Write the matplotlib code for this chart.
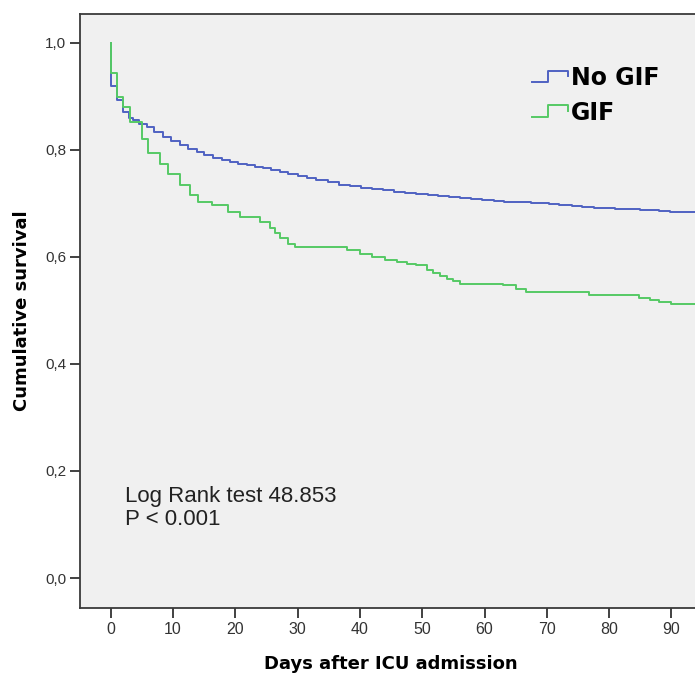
import matplotlib
matplotlib.use("Agg")
import matplotlib.pyplot as plt
from matplotlib.lines import Line2D
from matplotlib.legend_handler import HandlerBase

# ---- data ----
nogif_days = [0, 0, 1.0, 2.0, 3.0, 3.6, 4.5, 5.8, 7.0, 8.4, 9.7, 11.1, 12.4, 13.8, 15.0,
              16.4, 17.8, 19.1, 20.5, 21.8, 23.1, 24.4, 25.8, 27.1, 28.5, 30.0, 31.5,
              33.0, 34.8, 36.6, 38.4, 40.2, 42.0, 43.7, 45.5, 47.2, 49.0, 51.0, 52.6,
              54.3, 56.0, 57.8, 59.6, 61.5, 63.2, 65.0, 67.5, 70.4, 72.0, 74.0, 75.7,
              77.5, 79.3, 81.0, 83.0, 85.0, 86.4, 88.0, 89.7, 95.0]
nogif_surv = [1.0, 0.919, 0.893, 0.871, 0.860, 0.855, 0.849, 0.843, 0.834, 0.824, 0.816,
              0.808, 0.802, 0.796, 0.790, 0.784, 0.780, 0.777, 0.774, 0.771, 0.768, 0.765,
              0.762, 0.758, 0.755, 0.751, 0.747, 0.743, 0.739, 0.735, 0.732, 0.729, 0.726,
              0.724, 0.722, 0.720, 0.718, 0.716, 0.714, 0.712, 0.710, 0.708, 0.707, 0.705,
              0.703, 0.702, 0.700, 0.699, 0.697, 0.695, 0.694, 0.692, 0.691, 0.690, 0.689,
              0.688, 0.687, 0.686, 0.684, 0.684]

gif_days = [0, 0, 1.0, 2.0, 3.1, 5.0, 6.0, 7.9, 9.2, 11.1, 12.7, 14.0, 16.2, 18.8, 20.8,
            23.9, 25.6, 26.3, 27.1, 28.4, 29.5, 37.9, 40.0, 42.0, 44.0, 45.9, 47.5, 49.0,
            50.7, 51.8, 52.8, 53.9, 55.0, 56.0, 62.9, 65.0, 66.7, 76.8, 84.8, 86.5, 88.0,
            90.0, 95.0]
gif_surv = [1.0, 0.944, 0.899, 0.880, 0.852, 0.821, 0.794, 0.774, 0.755, 0.734, 0.715,
            0.702, 0.696, 0.684, 0.674, 0.665, 0.654, 0.645, 0.636, 0.624, 0.618, 0.612,
            0.606, 0.600, 0.595, 0.590, 0.587, 0.584, 0.575, 0.570, 0.565, 0.559, 0.554,
            0.550, 0.547, 0.540, 0.534, 0.528, 0.524, 0.520, 0.516, 0.512, 0.512]

series_labels = ["No GIF", "GIF"]
x_ticks = [0, 10, 20, 30, 40, 50, 60, 70, 80, 90]
y_ticks = [0.0, 0.2, 0.4, 0.6, 0.8, 1.0]
y_ticklabels = ["0,0", "0,2", "0,4", "0,6", "0,8", "1,0"]
annotation = "Log Rank test 48.853\nP < 0.001"

BLUE = "#4f62c2"
GREEN = "#55c965"

W, H = 695, 673
fig = plt.figure(figsize=(W / 100, H / 100), dpi=100)
fig.patch.set_facecolor("white")
ax = fig.add_axes([80 / W, 65 / H, 622 / W, 594 / H])
ax.set_facecolor("#f0f0f0")

ax.step(nogif_days, nogif_surv, where="post", color=BLUE, lw=1.4)
ax.step(gif_days, gif_surv, where="post", color=GREEN, lw=1.4)

ax.set_xlim(-4.93, 94.9)
ax.set_ylim(-0.056, 1.0536)
ax.set_xticks(x_ticks)
ax.set_xticklabels([str(t) for t in x_ticks], fontsize=11.5, family="Liberation Sans", color="#333333")
ax.set_yticks(y_ticks)
ax.set_yticklabels(y_ticklabels, fontsize=11, family="Liberation Sans", color="#333333")
ax.tick_params(direction="out", length=7, width=1.3, color="#333333", pad=3)

for s in ax.spines.values():
    s.set_color("#3a3a3a")
    s.set_linewidth(1.3)

ax.set_xlabel("Days after ICU admission", fontsize=13, fontweight="bold", family="DejaVu Sans")
ax.xaxis.set_label_coords(0.5, -0.079)
ax.set_ylabel("Cumulative survival", fontsize=13, fontweight="bold", family="DejaVu Sans")
ax.yaxis.set_label_coords(-0.078, 0.5)

ax.text(2.3, 0.171, annotation, transform=ax.transData, fontsize=16, family="Liberation Sans",
        color="#222222", linespacing=1.12, va="top", ha="left")


class StepHandler(HandlerBase):
    def create_artists(self, legend, orig_handle, xdescent, ydescent, width, height, fontsize, trans):
        x0 = -xdescent
        y0 = -ydescent
        xs = [x0, x0 + 0.45 * width, x0 + 0.45 * width, x0 + width, x0 + width]
        ys = [y0 + 0.05 * height, y0 + 0.05 * height, y0 + 1.0 * height, y0 + 1.0 * height, y0 + 0.55 * height]
        ln = Line2D(xs, ys, color=orig_handle.get_color(), lw=1.4)
        ln.set_transform(trans)
        return [ln]


handles = [Line2D([], [], color=BLUE), Line2D([], [], color=GREEN)]
leg = ax.legend(handles, series_labels, loc="upper left", bbox_to_anchor=(0.712, 0.928),
                frameon=False, handler_map={Line2D: StepHandler()},
                prop={"family": "DejaVu Sans", "weight": "bold", "size": 17},
                handlelength=1.5, handleheight=0.42, handletextpad=0.15, labelspacing=0.45,
                borderaxespad=0)

fig.savefig("out.png", dpi=100, facecolor="white")
